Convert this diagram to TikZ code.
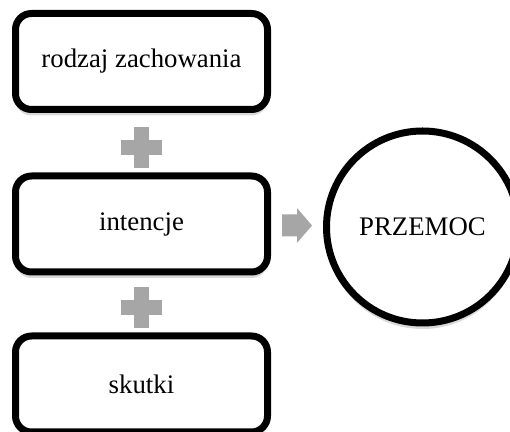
\documentclass[tikz,border=0pt]{standalone}
\usepackage{fontspec}
\setmainfont{Liberation Serif}
\usetikzlibrary{calc,shadows}
\definecolor{szary}{RGB}{166,166,166}
\tikzset{
	pudlo/.style={draw, line width=3.5pt, rounded corners=8pt, fill=white, minimum width=126pt, minimum height=48pt, font=\fontsize{13.4}{16}\selectfont, drop shadow={shadow xshift=0pt, shadow yshift=-3pt, opacity=.3}},
	kolo/.style={draw, circle, line width=3.5pt, fill=white, minimum size=96pt, font=\fontsize{13.4}{16}\selectfont, drop shadow={shadow xshift=0pt, shadow yshift=-3pt, opacity=.3}},
	plusik/.style={szary, line width=7.5pt}
}
\begin{document}
\begin{tikzpicture}[x=0.5pt,y=-0.5pt]
		\clip (0,0) rectangle (510,432);							% Ramka obrazka
		\node[pudlo] (zach) at (141.5,61.5) {rodzaj zachowania};	% Rodzaj zachowania
		\node[pudlo] (int) at (141.5,224) {intencje};				% Intencje
		\node[pudlo] (skut) at (141.5,384) {skutki};				% Skutki
		\node[kolo] (przemoc) at (422.5,227) {PRZEMOC};			% Przemoc
		
		% Plusy
		\path (zach.south) -- (int.north) coordinate[pos=.58] (p1);
		\path (int.south) -- (skut.north) coordinate[pos=.57] (p2);
		\foreach \p in {p1,p2} {
			\draw[plusik] ([xshift=-10.25pt]\p) -- ([xshift=10.25pt]\p);
			\draw[plusik] ([yshift=-10.25pt]\p) -- ([yshift=10.25pt]\p);
		}
		% Strzalka
		\path (int.east) -- (przemoc.west) coordinate[midway] (a);
		\fill[szary] ($(a)+(-15,-11)$) -- ($(a)+(0,-11)$) -- ($(a)+(0,-17.5)$) -- ($(a)+(15,0)$)
			-- ($(a)+(0,17.5)$) -- ($(a)+(0,11)$) -- ($(a)+(-15,11)$) -- cycle;
	\end{tikzpicture}
\end{document}
